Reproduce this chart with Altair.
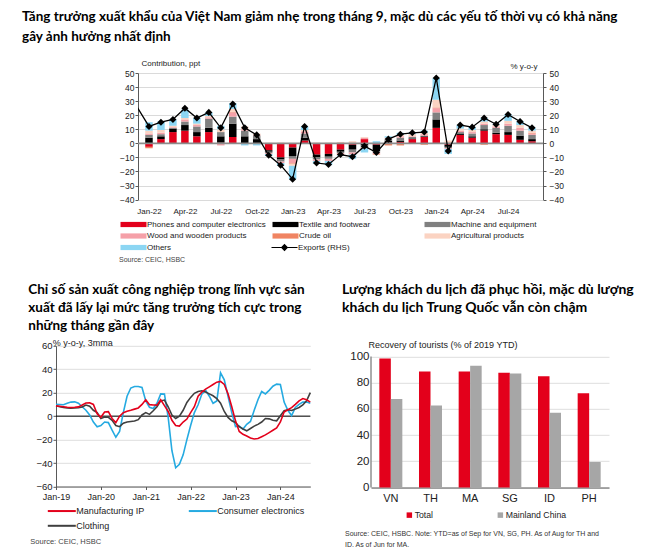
import json
import altair as alt
import pandas as pd

LABEL_FONT = "Liberation Sans, Arial, sans-serif"
TITLE_FONT = "Lato, Noto Sans, sans-serif"
INK = "#222222"
AXIS = "#595959"

# ------------------------------------------------------------------ top chart data
months = ["Jan-22", "Feb-22", "Mar-22", "Apr-22", "May-22", "Jun-22", "Jul-22", "Aug-22", "Sep-22", "Oct-22", "Nov-22", "Dec-22",
          "Jan-23", "Feb-23", "Mar-23", "Apr-23", "May-23", "Jun-23", "Jul-23", "Aug-23", "Sep-23", "Oct-23", "Nov-23", "Dec-23",
          "Jan-24", "Feb-24", "Mar-24", "Apr-24", "May-24", "Jun-24", "Jul-24", "Aug-24", "Sep-24"]
categories = ["Phones and computer electronics", "Textile and footwear", "Machine and equipment",
              "Wood and wooden products", "Crude oil", "Agricultural products", "Others"]
cat_colors = ["#e3001b", "#000000", "#808080", "#f5a0a8", "#f08462", "#fbd3c2", "#8cd6f3"]
phones = [-2.5, 3, 8, 9, 5, 8, 0.5, 4.5, 0, 0, -5, -10,
          -3, 2, -8, -7.5, -4.5, -1, 3, -1, 0.5, 1, 3, 4.5,
          11, -1, 6, 4, 9, 6.5, 6, 2.5, 1.5]
textile = [4, 2, 2.5, 4, 3, 3, 4.5, 9.5, 5, 3, -1, -1.5,
           -6, 2, -2, -2, -1.5, -3.5, -1.5, -4.5, 1.5, 1, 0.5, 0.5,
           6, -1.5, 1, 1, 1, 1, 2, 3, 1.5]
machine = [2, 1.5, 0.5, 2.5, 4, 6.5, 3, 5, 4, 2.5, -1, -1.5,
           -2, 3, -1.5, -1.5, -1, -2, -1.5, -1, 1, 2, 1, 0.5,
           5, -1, 1, 2, 3, 3.5, 4.5, 3.5, 3]
wood = [1, 1, 0.5, 1.5, 1, 1, -1.5, 3, 1, 0.5, -0.5, -1,
        -3, 1.5, -1, -1.5, -1, -1.5, 1, -1, 0.5, 1, 0.5, 1,
        3, -0.5, 1, 1, 1, 1, 1.5, 2, 1]
crude_oil = [-1, 0, 0, 0, 0, 0, 0, 0.5, 0, 0, 0, 0,
             -0.5, 0, 0, 0, -0.5, 0, -0.5, -0.5, -1.5, -1.5, -0.5, -1,
             0.5, 0.5, -0.5, -0.5, -1, 0, -0.5, 0, 0.5]
agri = [2, 2, 1, 1, 1, 1, 2, 2, 2, 1, 0.5, 0.5,
        -1.5, 1, 0.5, 0.5, 1, 1.5, 0.5, 0, 0.5, 1, 1.5, 1,
        5.5, 1.5, 1.5, 1.5, 1.5, 1, 2, 2, 1.5]
others = [6, 6, 4.5, 6, 4, 2.5, 2.5, 4, -1.5, -1.5, -1.5, -2,
          -9.5, 2.5, -2, -3, -0.5, -3, -3, 1.5, 1, 1.5, 1.5, 1.5,
          15.5, -3.5, 2.5, 2, 2.5, 0.5, 4.5, 2.5, 2]
export_months = ["Dec-21"] + months
exports = [26, 12, 15, 17, 25, 18, 22, 11, 28, 11, 6, -8.5, -15.5,
           -25.5, 12, -14, -15, -8, -9.5, -2, -6.5, 3, 6.5, 7.5, 8,
           46.5, -5.5, 13, 11.5, 18, 13.5, 20.5, 15.5, 11]

# ------------------------------------------------------------------ bottom-left data
year_labels = ["Jan-19", "Jan-20", "Jan-21", "Jan-22", "Jan-23", "Jan-24"]
ip_series = ["Manufacturing IP", "Consumer electronics", "Clothing"]
ip_colors = ["#e3001b", "#25aae1", "#3f3f3f"]
manufacturing_ip = [8.8, 8.4, 8, 7.6, 7.4, 7.6, 7.9, 9.5, 11.2, 11.4, 10, 2,
                    -1, 3.5, 3.8, -2, -5.5, 0, 3, 4.2, 5, 6, 7, 10,
                    14, 9.8, 9.5, 9.4, 14, 9, 4, -3.5, -8, -8.5, -5, -2.5,
                    3, 8, 17, 20.5, 23, 25, 27, 29, 29.6, 27, 19, 8,
                    -4, -13, -15.5, -17, -18.7, -19.5, -19, -17.5, -16, -14, -12, -10,
                    -5, 3.5, 5.5, 7.2, 10, 13, 15, 14, 12]
consumer_electronics = [10.2, 10, 9.7, 11, 12, 12.2, 11, 8, 5, 1, -5, -9,
                        -8, -5, -5.5, -12, -18, -13, 3, 17, 24, 25.3, 25.3, 24.5,
                        13, 7.5, 6.5, 11, 19, 18.8, -1, -29.5, -44, -41, -33, -20,
                        -8, 3, 9.7, 18.8, 22, 17, 11, 13, 37, 31, 17, 3,
                        -9, -8.5, -11, -7, -4.5, 5, 14, 21, 19, 22, 25.5, 27.3,
                        27, 12, 5, 0.5, 7.4, 10, 12, 12, 11]
clothing = [8.8, 8, 7.4, 7, 6.7, 7, 7.2, 7.8, 9.5, 8.5, 5, 3.1,
            -2, -0.8, -1, -3.5, -8, -9, -6, -5, -4.5, -4.2, -3, 1,
            3, 1.5, 4.6, 8, 13, 13.7, 8, 1, -2, 0, 5, 11.7,
            16, 19.5, 21, 21.6, 20.5, 19, 17.4, 15, 11, 4, -1.1, -4,
            -5.4, -9, -11, -12.5, -10.5, -8.5, -7, -5, -2, -2.3, -3.5, -4,
            0.3, 4.6, 5.5, 4.8, 6, 7.4, 9.5, 13, 20]

# ------------------------------------------------------------------ bottom-right data
countries = ["VN", "TH", "MA", "SG", "ID", "PH"]
tour_series = ["Total", "Mainland China"]
tour_colors = ["#e3001b", "#a6a6a6"]
total_recovery = [98.5, 88.5, 88.5, 87.5, 85, 72]
china_recovery = [67.5, 62.5, 93, 87, 57, 19.5]

title_top = ("Tăng trưởng xuất khẩu của Việt Nam giảm nhẹ trong tháng 9, mặc dù các yếu tố thời vụ có khả năng\n"
             "gây ảnh hưởng nhất định")
title_bl = ("Chỉ số sản xuất công nghiệp trong lĩnh vực sản\n"
            "xuất đã lấy lại mức tăng trưởng tích cực trong\n"
            "những tháng gần đây")
title_br = ("Lượng khách du lịch đã phục hồi, mặc dù lượng\n"
            "khách du lịch Trung Quốc vẫn còn chậm")
source_top = "Source: CEIC, HSBC"
source_bl = "Source: CEIC, HSBC"
source_br = ("Source: CEIC, HSBC. Note: YTD=as of Sep for VN, SG, PH. As of Aug for TH and\n"
             "ID. As of Jun for MA.")


def text_layer(text, x, y, size, font=LABEL_FONT, weight="normal", color=INK, line_height=None):
    kw = dict(align="left", baseline="top", fontSize=size, font=font, fontWeight=weight, color=color)
    if line_height:
        kw.update(lineBreak="\n", lineHeight=line_height)
    return alt.Chart(pd.DataFrame({"t": [text]})).mark_text(**kw).encode(
        x=alt.value(x), y=alt.value(y), text="t:N")


# ================================================================== TOP CHART
series_lists = [phones, textile, machine, wood, crude_oil, agri, others]
rows = []
for k, (cat, vals) in enumerate(zip(categories, series_lists)):
    for i, v in enumerate(vals):
        rows.append({"i": i, "month": months[i], "cat": cat, "k": k, "v": v})
df_contrib = pd.DataFrame(rows)
df_exp = pd.DataFrame({"i": [j - 1 for j in range(len(exports))], "month": export_months,
                       "e": exports, "s": "Exports (RHS)"})
df_pts = df_exp[df_exp["i"] >= 0]

top_x = alt.Scale(domain=[-0.5, 32.5], nice=False, zero=False)
top_y = alt.Scale(domain=[-40, 50], nice=False)
top_ticks = list(range(-40, 51, 10))

X_AXIS_TOP = alt.Axis(values=list(range(0, 33, 3)), labelExpr=f"{json.dumps(months)}[datum.value]",
                      title=None, domain=False, ticks=False, grid=False, labelFontSize=8,
                      labelPadding=8, labelColor=INK, labelFlush=False)
Y_AXIS_LEFT = alt.Axis(values=top_ticks, title="Contribution, ppt", titleAngle=0, titleAlign="left",
                       titleBaseline="middle", titleX=3, titleY=-9.7, titleFontSize=8,
                       titleFontWeight="normal", titleColor=INK, grid=True, gridColor="#dadada",
                       domainColor=AXIS, tickColor=AXIS, tickSize=3, labelFontSize=8.5,
                       labelPadding=1, labelColor=INK)
Y_AXIS_RIGHT = alt.Axis(orient="right", values=top_ticks, title="% y-o-y", titleAngle=0,
                        titleAlign="right", titleBaseline="middle", titleX=-6, titleY=-6.7,
                        titleFontSize=8, titleFontWeight="normal", titleColor=INK, grid=False,
                        domainColor=AXIS, tickColor=AXIS, tickSize=3, labelFontSize=8.5,
                        labelPadding=3, labelColor=INK)

BAR_PATH = "M-1,-1.04H9.4V1.04H-1Z"
EXP_PATH = "M-1,0H9.4M4.2,-1.12L5.32,0L4.2,1.12L3.08,0Z"

bars = alt.Chart(df_contrib).mark_bar(size=7.5).encode(
    x=alt.X("i:Q", scale=top_x, axis=X_AXIS_TOP),
    y=alt.Y("v:Q", stack="zero", scale=top_y, axis=Y_AXIS_LEFT),
    color=alt.Color("cat:N", scale=alt.Scale(domain=categories, range=cat_colors),
                    legend=alt.Legend(orient="none", legendX=-19, legendY=147.5, columns=3,
                                      direction="horizontal", title=None,
                                      symbolType=BAR_PATH, symbolSize=25, symbolStrokeWidth=0,
                                      labelFontSize=8, labelOffset=20, columnPadding=5, rowPadding=3.5,
                                      gridAlign="all", labelColor=INK, padding=0)),
    order=alt.Order("k:Q", sort="ascending"),
)
zero_top = alt.Chart(pd.DataFrame({"z": [0]})).mark_rule(color="#8c8c8c", strokeWidth=1.6).encode(
    y=alt.Y("z:Q", scale=top_y, axis=Y_AXIS_LEFT))

exp_line = alt.Chart(df_exp).mark_line(strokeWidth=1.3, clip=True).encode(
    x=alt.X("i:Q", scale=top_x, axis=X_AXIS_TOP),
    y=alt.Y("e:Q", scale=top_y, axis=Y_AXIS_RIGHT),
    stroke=alt.Stroke("s:N", scale=alt.Scale(domain=["Exports (RHS)"], range=["black"]),
                      legend=alt.Legend(orient="none", legendX=132, legendY=170.5, title=None,
                                        symbolType=EXP_PATH, symbolSize=25, symbolStrokeWidth=1.2,
                                        symbolFillColor="black", labelFontSize=8, labelOffset=20,
                                        labelColor=INK, padding=0)),
)
exp_pts = alt.Chart(df_pts).mark_point(shape="diamond", filled=True, size=50, color="black",
                                       opacity=1, clip=True).encode(
    x=alt.X("i:Q", scale=top_x, axis=X_AXIS_TOP),
    y=alt.Y("e:Q", scale=top_y, axis=Y_AXIS_RIGHT),
)

top = alt.layer(
    alt.layer(bars, zero_top),
    alt.layer(exp_line, exp_pts),
    text_layer(title_top, -116, -62.7, 13.5, font=TITLE_FONT, weight="bold", color="#000", line_height=20),
    text_layer(source_top, -19, 183, 7, color="#444"),
).resolve_scale(y="independent").properties(width=405, height=126.6)

# ================================================================== BOTTOM-LEFT CHART
ip_rows = []
for name, vals in [("Consumer electronics", consumer_electronics), ("Clothing", clothing),
                   ("Manufacturing IP", manufacturing_ip)]:
    for i, v in enumerate(vals):
        ip_rows.append({"i": i, "series": name, "v": v})
df_ip = pd.DataFrame(ip_rows)

bl_y = alt.Scale(domain=[-60, 60], nice=False)
Y_AXIS_BL = alt.Axis(values=list(range(-60, 61, 20)), title="% y-o-y, 3mma", titleAngle=0,
                     titleAlign="left", titleBaseline="middle", titleX=-3.7, titleY=-3,
                     titleFontSize=9, titleFontWeight="normal", titleColor=INK, grid=True,
                     gridColor="#dedede", domainColor=AXIS, tickColor=AXIS, tickSize=3,
                     labelFontSize=9.5, labelPadding=1, labelColor=INK)
LINE_PATH = "M-1,0H13"
bl_lines = alt.Chart(df_ip).mark_line(strokeWidth=1.6).encode(
    x=alt.X("i:Q", scale=alt.Scale(domain=[0, 68], nice=False, zero=False),
            axis=alt.Axis(values=list(range(0, 61, 12)), labelExpr=f"{json.dumps(year_labels)}[datum.value / 12]",
                          title=None, grid=False, domainColor=AXIS, tickColor=AXIS, tickSize=3,
                          labelFontSize=9, labelPadding=3, labelColor=INK, labelFlush=False)),
    y=alt.Y("v:Q", scale=bl_y, axis=Y_AXIS_BL),
    color=alt.Color("series:N", scale=alt.Scale(domain=ip_series, range=ip_colors),
                    legend=alt.Legend(orient="none", legendX=-10.7, legendY=160.5, columns=2,
                                      direction="horizontal", title=None,
                                      symbolType=LINE_PATH, symbolSize=16, symbolStrokeWidth=2,
                                      labelFontSize=9, labelOffset=22, columnPadding=39, rowPadding=5,
                                      labelColor=INK, padding=0)),
)
zero_bl = alt.Chart(pd.DataFrame({"z": [0]})).mark_rule(color="#000000", strokeWidth=1).encode(
    y=alt.Y("z:Q", scale=bl_y, axis=Y_AXIS_BL))

bl = alt.layer(
    zero_bl, bl_lines,
    text_layer(title_bl, -27.7, -63, 13.5, font=TITLE_FONT, weight="bold", color="#000", line_height=18),
    text_layer(source_bl, -25.7, 192.5, 7.5, color="#444"),
).properties(width=254.3, height=140.7)

# ================================================================== BOTTOM-RIGHT CHART
tour_rows = []
for c, t, ch in zip(countries, total_recovery, china_recovery):
    tour_rows.append({"country": c, "series": "Total", "v": t})
    tour_rows.append({"country": c, "series": "Mainland China", "v": ch})
df_tour = pd.DataFrame(tour_rows)

BR_H = 141.7
br_y = alt.Scale(domain=[0, 100 * BR_H / 131.0], nice=False)
Y_AXIS_BR = alt.Axis(values=list(range(0, 101, 20)), title="Recovery of tourists (% of 2019 YTD)",
                     titleAngle=0, titleAlign="left", titleBaseline="middle", titleX=-3, titleY=-1,
                     titleFontSize=9, titleFontWeight="normal", titleColor=INK, domain=False,
                     ticks=False, grid=True, gridColor="#dedede", labelFontSize=11.5,
                     labelPadding=2, labelColor=INK)
br_bars = alt.Chart(df_tour).mark_bar().encode(
    x=alt.X("country:N", sort=countries, scale=alt.Scale(paddingInner=0.42, paddingOuter=0.21),
            axis=alt.Axis(title=None, labelAngle=0, labelFontSize=11, ticks=False, domainColor=AXIS,
                          labelPadding=5, labelColor=INK)),
    xOffset=alt.XOffset("series:N", sort=tour_series, scale=alt.Scale(paddingInner=0, paddingOuter=0)),
    y=alt.Y("v:Q", scale=br_y, axis=Y_AXIS_BR),
    color=alt.Color("series:N", sort=tour_series, scale=alt.Scale(domain=tour_series, range=tour_colors),
                    legend=alt.Legend(orient="none", legendX=34, legendY=164.5, direction="horizontal",
                                      title=None, symbolType="square", symbolSize=30, labelFontSize=8.7,
                                      labelOffset=1, columnPadding=62, labelColor=INK, padding=0)),
)
br_axis = alt.Chart(pd.DataFrame({"a": [0], "b": [100]})).mark_rule(color=AXIS, strokeWidth=1).encode(
    x=alt.value(0), y=alt.Y("a:Q", scale=br_y, axis=Y_AXIS_BR), y2="b:Q")

br = alt.layer(
    br_bars, br_axis,
    text_layer(title_br, -29, -62.5, 14, font=TITLE_FONT, weight="bold", color="#000", line_height=18),
    text_layer(source_br, -26, 184.3, 7, color="#333", line_height=11),
).properties(width=238, height=BR_H)


def spacer(w, h):
    return alt.Chart(pd.DataFrame({"s": [0]})).mark_point(opacity=0, size=1).encode(
        x=alt.value(0), y=alt.value(0)).properties(width=w, height=h)


row1 = alt.hconcat(spacer(81.3, 200), top, spacing=0, bounds="flush").resolve_scale(
    color="independent", stroke="independent")
row2 = alt.hconcat(bl, spacer(60, BR_H), br, spacing=0, bounds="flush").resolve_scale(
    color="independent", stroke="independent")

chart = alt.vconcat(row1, row2, spacing=7.8).resolve_scale(
    color="independent", stroke="independent"
).properties(
    padding={"left": 13, "top": 1, "right": 4, "bottom": 0}
).configure(
    font=LABEL_FONT
).configure_view(
    stroke="transparent"
).configure_axis(
    labelFont=LABEL_FONT, titleFont=LABEL_FONT
).configure_legend(
    labelFont=LABEL_FONT
)

chart.save("out.html", embed_options={"renderer": "svg", "actions": False})
